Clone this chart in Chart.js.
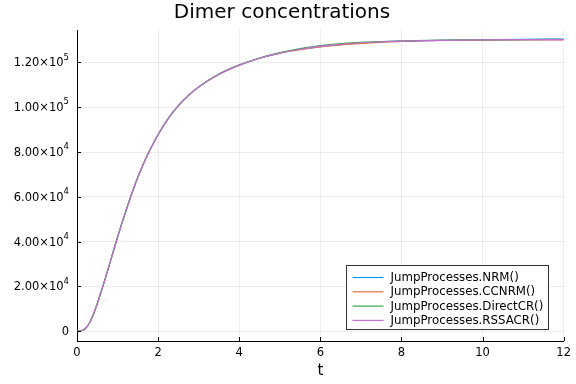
<!DOCTYPE html>
<html>
<head>
<meta charset="utf-8">
<script src="https://cdn.jsdelivr.net/npm/chart.js@4.4.0/dist/chart.umd.min.js"></script>
<style>
  html, body { margin: 0; padding: 0; background: #fff; }
</style>
</head>
<body>
<canvas id="chart" width="576" height="384"></canvas>
<script>
// time points and dimer counts
const times = [0, 0.1, 0.2, 0.3, 0.4, 0.5, 0.6, 0.7, 0.8, 0.9, 1.0, 1.1, 1.2, 1.3, 1.4, 1.5, 1.6, 1.7, 1.8, 1.9, 2.0,
  2.25, 2.5, 2.75, 3.0, 3.5, 4.0, 4.5, 5.0, 5.5, 6.0, 6.5, 7.0, 7.5, 8.0, 9.0, 10.0, 11.0, 12.0];

const nrm = [0, 200, 1100, 3400, 7300, 12300, 17900, 23700, 29700, 35900, 42000, 47800, 53400, 58800, 63900, 68700, 73100, 77200, 81000, 84500, 87800,
  95000, 100700, 105300, 109000, 114700, 118800, 121900, 124200, 125900, 127100, 128000, 128700, 129200, 129500, 129900, 130100, 130300, 130450];
const ccnrm = [0, 200, 1100, 3400, 7300, 12300, 17900, 23700, 29700, 35900, 42000, 47800, 53400, 58800, 63900, 68700, 73100, 77200, 81000, 84500, 87800,
  95000, 100700, 105300, 109000, 114700, 118800, 121900, 124200, 125700, 126900, 127800, 128500, 129000, 129400, 129800, 130000, 130100, 130050];
const directcr = [0, 200, 1100, 3400, 7300, 12300, 17900, 23700, 29700, 35900, 42000, 47800, 53400, 58800, 63900, 68700, 73100, 77200, 81000, 84500, 87700,
  94900, 100700, 105300, 109100, 114800, 118900, 122000, 124400, 126200, 127500, 128400, 129000, 129300, 129600, 130000, 130100, 130200, 130350];
const rssacr = [0, 200, 1100, 3400, 7300, 12300, 17900, 23700, 29700, 35900, 42000, 47800, 53400, 58800, 63900, 68700, 73100, 77200, 81000, 84500, 87800,
  95000, 100700, 105300, 109000, 114700, 118800, 121900, 124200, 125900, 127200, 128100, 128800, 129200, 129500, 129900, 130100, 130200, 130200];

const seriesNames = ["JumpProcesses.NRM()", "JumpProcesses.CCNRM()", "JumpProcesses.DirectCR()", "JumpProcesses.RSSACR()"];
const seriesColors = ["#009af9", "#e26f46", "#3da44d", "#c271d2"];

const xTicks = [0, 2, 4, 6, 8, 10, 12];
const yTicks = [0, 20000, 40000, 60000, 80000, 100000, 120000];
// y labels are mantissa×10 with a raised exponent, as in the GR output
const yTickBase = ["0", "2.00×10", "4.00×10", "6.00×10", "8.00×10", "1.00×10", "1.20×10"];
const yTickExp = ["", "4", "4", "4", "4", "5", "5"];

const FONT = "'DejaVu Sans', sans-serif";

// Plots.jl-style ticks point into the plot area
const innerTicks = {
  id: "innerTicks",
  afterDraw(chart) {
    const { ctx, chartArea, scales } = chart;
    ctx.save();
    ctx.strokeStyle = "#000";
    ctx.lineWidth = 1;
    ctx.beginPath();
    scales.x.ticks.forEach((t) => {
      const px = Math.round(scales.x.getPixelForValue(t.value)) + 0.5;
      ctx.moveTo(px, chartArea.bottom);
      ctx.lineTo(px, chartArea.bottom - 4);
    });
    scales.y.ticks.forEach((t) => {
      const py = Math.round(scales.y.getPixelForValue(t.value)) + 0.5;
      ctx.moveTo(chartArea.left, py);
      ctx.lineTo(chartArea.left + 4, py);
    });
    ctx.stroke();
    ctx.restore();
  },
};

// y tick labels with a proper superscript exponent
const yLabels = {
  id: "yLabels",
  afterDraw(chart) {
    const { ctx, chartArea, scales } = chart;
    const right = chartArea.left - 8;
    ctx.save();
    ctx.fillStyle = "#000";
    ctx.textBaseline = "middle";
    yTicks.forEach((v, i) => {
      const py = scales.y.getPixelForValue(v);
      ctx.font = "8.5px " + FONT;
      const ew = yTickExp[i] ? ctx.measureText(yTickExp[i]).width : 0;
      if (yTickExp[i]) {
        ctx.textAlign = "right";
        ctx.fillText(yTickExp[i], right, py - 5);
      }
      ctx.font = "11.5px " + FONT;
      ctx.textAlign = "right";
      ctx.fillText(yTickBase[i], right - ew, py + 1);
    });
    ctx.restore();
  },
};

// legend box in the lower right corner of the plot area
const boxLegend = {
  id: "boxLegend",
  afterDatasetsDraw(chart) {
    const { ctx, chartArea } = chart;
    const w = 202, h = 64;
    const x0 = Math.round(chartArea.right - 16 - w) + 0.5;
    const y0 = Math.round(chartArea.bottom - 12 - h) + 0.5;
    ctx.save();
    ctx.fillStyle = "#fff";
    ctx.fillRect(x0, y0, w, h);
    ctx.strokeStyle = "#333";
    ctx.lineWidth = 1;
    ctx.strokeRect(x0, y0, w, h);
    ctx.font = "11.8px " + FONT;
    ctx.textBaseline = "middle";
    chart.data.datasets.forEach((ds, i) => {
      const y = y0 + 12 + i * 14.3;
      ctx.strokeStyle = ds.borderColor;
      ctx.lineWidth = 1.2;
      ctx.beginPath();
      ctx.moveTo(x0 + 6, y);
      ctx.lineTo(x0 + 37, y);
      ctx.stroke();
      ctx.fillStyle = "#000";
      ctx.fillText(ds.label, x0 + 44, y + 0.5);
    });
    ctx.restore();
  },
};

const allSeries = [nrm, ccnrm, directcr, rssacr];

new Chart(document.getElementById("chart"), {
  type: "line",
  data: {
    datasets: allSeries.map((vals, i) => ({
      label: seriesNames[i],
      data: times.map((t, k) => ({ x: t, y: vals[k] })),
      borderColor: seriesColors[i],
      borderWidth: 1.2,
      pointRadius: 0,
      cubicInterpolationMode: "monotone",
      fill: false,
      order: allSeries.length - 1 - i, // later series drawn on top, like Plots
    })),
  },
  options: {
    responsive: false,
    animation: false,
    layout: { padding: { left: 0, right: 12, top: 0, bottom: 0 } },
    plugins: {
      legend: { display: false },
      tooltip: { enabled: false },
      title: {
        display: true,
        text: "Dimer concentrations",
        color: "#000",
        font: { family: FONT, size: 20, weight: "normal" },
        padding: { top: 1, bottom: 5 },
      },
    },
    scales: {
      x: {
        type: "linear",
        min: 0,
        max: 12,
        afterBuildTicks: (scale) => { scale.ticks = xTicks.map((v) => ({ value: v })); },
        afterFit: (scale) => { scale.height = 43; },
        grid: { color: "rgba(0,0,0,0.07)", drawTicks: false },
        border: { color: "#000", width: 1 },
        ticks: {
          color: "#000",
          padding: 5,
          maxRotation: 0,
          font: { family: FONT, size: 11.5 },
          callback: (v) => String(v),
        },
        title: {
          display: true,
          text: "t",
          color: "#000",
          font: { family: FONT, size: 15 },
          padding: { top: 0, bottom: 4 },
        },
      },
      y: {
        type: "linear",
        min: -4400,
        max: 134500,
        afterBuildTicks: (scale) => { scale.ticks = yTicks.map((v) => ({ value: v })); },
        afterFit: (scale) => { scale.width = 77; },
        grid: { color: "rgba(0,0,0,0.07)", drawTicks: false },
        border: { color: "#000", width: 1 },
        ticks: { display: false },
      },
    },
  },
  plugins: [innerTicks, yLabels, boxLegend],
});
</script>
</body>
</html>
